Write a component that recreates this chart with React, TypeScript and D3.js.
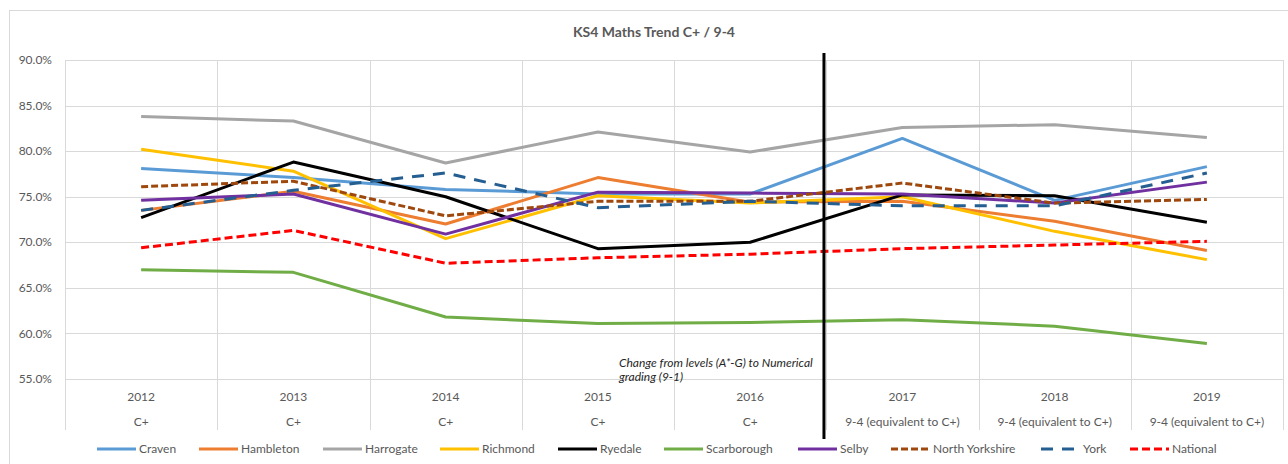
import React, { useRef, useEffect } from 'react';
import * as d3 from 'd3';

const years = ['2012', '2013', '2014', '2015', '2016', '2017', '2018', '2019'];
const grades = ['C+', 'C+', 'C+', 'C+', 'C+', '9-4 (equivalent to C+)', '9-4 (equivalent to C+)', '9-4 (equivalent to C+)'];
const yTicks = [55, 60, 65, 70, 75, 80, 85, 90];

const craven = [78.1, 77.1, 75.8, 75.3, 75.3, 81.4, 74.6, 78.3];
const hambleton = [73.5, 75.6, 72.0, 77.1, 74.4, 74.5, 72.3, 69.1];
const harrogate = [83.8, 83.3, 78.7, 82.1, 79.9, 82.6, 82.9, 81.5];
const richmond = [80.2, 77.8, 70.4, 75.1, 74.3, 75.0, 71.2, 68.1];
const ryedale = [72.7, 78.8, 75.0, 69.3, 70.0, 75.2, 75.1, 72.2];
const scarborough = [67.0, 66.7, 61.8, 61.1, 61.2, 61.5, 60.8, 58.9];
const selby = [74.6, 75.3, 70.9, 75.5, 75.4, 75.3, 74.3, 76.6];
const northYorkshire = [76.1, 76.7, 72.9, 74.5, 74.5, 76.5, 74.3, 74.7];
const york = [73.5, 75.7, 77.6, 73.8, 74.5, 74.0, 74.0, 77.6];
const national = [69.4, 71.3, 67.7, 68.3, 68.7, 69.3, 69.7, 70.1];

const series = [
  { name: 'Craven', values: craven, color: '#5B9BD5', dash: null },
  { name: 'Hambleton', values: hambleton, color: '#ED7D31', dash: null },
  { name: 'Harrogate', values: harrogate, color: '#A5A5A5', dash: null },
  { name: 'Richmond', values: richmond, color: '#FFC000', dash: null },
  { name: 'Ryedale', values: ryedale, color: '#000000', dash: null },
  { name: 'Scarborough', values: scarborough, color: '#70AD47', dash: null },
  { name: 'Selby', values: selby, color: '#7030A0', dash: null },
  { name: 'North Yorkshire', values: northYorkshire, color: '#9E480E', dash: '7,3' },
  { name: 'York', values: york, color: '#255E91', dash: '12,9' },
  { name: 'National', values: national, color: '#FF0000', dash: '8,4' },
];

// legend item start positions (layout)
const legendX = [97, 199, 323, 440, 558, 664, 798, 891, 1041, 1130];

const W = 1288;
const H = 464;
const FONT = 'Lato, "Open Sans", sans-serif';
const GREY = '#595959';

export default function App() {
  const ref = useRef<SVGSVGElement>(null);

  useEffect(() => {
    const svg = d3.select(ref.current);
    svg.selectAll('*').remove();

    const plot = { left: 65, right: 1283, top: 60, bottom: 379 };
    const x = d3.scaleBand<string>().domain(years).range([plot.left, plot.right]).padding(0);
    const y = d3.scaleLinear().domain([55, 90]).range([plot.bottom, plot.top]);
    const cx = (i: number) => (x(years[i]) as number) + x.bandwidth() / 2;

    svg.append('rect')
      .attr('x', 0).attr('y', 0).attr('width', W).attr('height', H)
      .attr('fill', '#fff');
    svg.append('rect')
      .attr('x', 9.5).attr('y', 10.5).attr('width', W).attr('height', H)
      .attr('fill', 'none').attr('stroke', '#d9d9d9');

    // title
    svg.append('text')
      .attr('x', 654).attr('y', 37)
      .attr('text-anchor', 'middle')
      .attr('font-family', FONT).attr('font-weight', 700).attr('font-size', 14)
      .attr('fill', GREY)
      .text('KS4 Maths Trend C+ / 9-4');

    // horizontal gridlines
    svg.append('g').selectAll('line').data(yTicks).join('line')
      .attr('x1', plot.left).attr('x2', plot.right)
      .attr('y1', d => Math.round(y(d)) + 0.5).attr('y2', d => Math.round(y(d)) + 0.5)
      .attr('stroke', '#d9d9d9').attr('stroke-width', 1);

    // vertical gridlines / category separators
    const bounds = years.map(d => x(d) as number).concat([plot.right]);
    svg.append('g').selectAll('line').data(bounds).join('line')
      .attr('x1', d => Math.round(d) + 0.5).attr('x2', d => Math.round(d) + 0.5)
      .attr('y1', plot.top).attr('y2', 430)
      .attr('stroke', '#d9d9d9').attr('stroke-width', 1);

    // y labels
    svg.append('g').selectAll('text').data(yTicks).join('text')
      .attr('x', 52).attr('y', d => y(d))
      .attr('dy', '0.35em')
      .attr('text-anchor', 'end')
      .attr('font-family', FONT).attr('font-size', 12).attr('fill', GREY)
      .text(d => d3.format('.1f')(d) + '%');

    // category labels
    const cat = svg.append('g').attr('font-family', FONT).attr('font-size', 12).attr('fill', GREY).attr('text-anchor', 'middle');
    cat.selectAll('text.yr').data(years).join('text')
      .attr('class', 'yr')
      .attr('x', (_, i) => cx(i)).attr('y', 401)
      .text(d => d);
    cat.selectAll('text.gr').data(grades).join('text')
      .attr('class', 'gr')
      .attr('x', (_, i) => cx(i)).attr('y', 426)
      .text(d => d);

    // series
    const line = d3.line<number>().x((_, i) => cx(i)).y(d => y(d));
    const lines = svg.append('g');
    series.forEach(s => {
      lines.append('path')
        .attr('d', line(s.values))
        .attr('fill', 'none')
        .attr('stroke', s.color)
        .attr('stroke-width', 3)
        .attr('stroke-linejoin', 'round')
        .attr('stroke-dasharray', s.dash);
    });

    // annotation: change of grading
    const divX = cx(4) + x.bandwidth() * 0.485;
    svg.append('line')
      .attr('x1', divX).attr('x2', divX)
      .attr('y1', 53).attr('y2', 439)
      .attr('stroke', '#000').attr('stroke-width', 3);
    const note = svg.append('text')
      .attr('font-family', FONT).attr('font-size', 12).attr('font-style', 'italic')
      .attr('fill', '#262626');
    note.append('tspan').attr('x', 619).attr('y', 367).text('Change from levels (A*-G) to Numerical');
    note.append('tspan').attr('x', 619).attr('y', 381).text('grading (9-1)');

    // legend
    const lg = svg.append('g').selectAll('g').data(series).join('g')
      .attr('transform', (_, i) => `translate(${legendX[i]},449)`);
    lg.append('line')
      .attr('x1', 0).attr('x2', 39).attr('y1', 0).attr('y2', 0)
      .attr('stroke', d => d.color).attr('stroke-width', 3)
      .attr('stroke-dasharray', d => d.dash);
    lg.append('text')
      .attr('x', 42).attr('y', 0).attr('dy', '0.35em')
      .attr('font-family', FONT).attr('font-size', 12).attr('fill', GREY)
      .text(d => d.name);
  }, []);

  return (
    <svg
      ref={ref}
      width={W}
      height={H}
      style={{ position: 'absolute', left: 0, top: 0, display: 'block' }}
    />
  );
}
